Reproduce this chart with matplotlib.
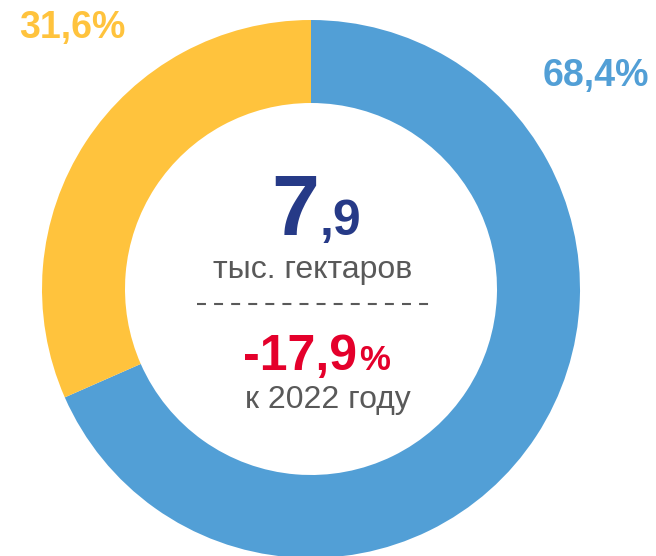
import matplotlib
matplotlib.use("Agg")
import matplotlib.pyplot as plt

plt.rcParams["font.family"] = ["Liberation Sans", "DejaVu Sans"]

# data
labels = ["68,4%", "31,6%"]
shares = [68.4, 31.6]
colors = ["#529FD6", "#FFC33D"]
total_main = "7"
total_dec = ",9"
unit = "тыс. гектаров"
change = "-17,9"
change_note = "к 2022 году"

W, H = 656, 556
fig = plt.figure(figsize=(W / 100, H / 100), dpi=100, facecolor="white")
ax = fig.add_axes([0, 0, 1, 1])

def Y(y):
    # image pixel row -> axes y
    return H - y

ax.pie(shares, colors=colors, startangle=90, counterclock=False,
       center=(311, Y(289)), radius=269,
       wedgeprops=dict(width=83, edgecolor="none"))
ax.set_xlim(0, W)
ax.set_ylim(0, H)
ax.set_aspect("equal")
ax.axis("off")

# outer labels
ax.text(596, Y(76), labels[0], ha="center", va="center", fontsize=27,
        fontweight="bold", color=colors[0])
ax.text(72, Y(28), labels[1], ha="center", va="center", fontsize=27,
        fontweight="bold", color=colors[1])

# centre
navy = "#263A87"
gray = "#595959"
ax.text(319, Y(235), total_main, ha="right", va="baseline", fontsize=62,
        fontweight="bold", color=navy)
ax.text(320, Y(235), total_dec, ha="left", va="baseline", fontsize=36,
        fontweight="bold", color=navy)
ax.text(313, Y(270), unit, ha="center", va="center", fontsize=23, color=gray)
ax.plot([197, 432], [Y(304), Y(304)], color=gray, lw=1.5,
        linestyle=(0, (4.3, 3.9)))
ax.text(357, Y(370), change, ha="right", va="baseline", fontsize=36,
        fontweight="bold", color="#E4002B")
ax.text(359, Y(370), "%", ha="left", va="baseline", fontsize=25,
        fontweight="bold", color="#E4002B")
ax.text(328, Y(400), change_note, ha="center", va="center", fontsize=23,
        color=gray)

fig.savefig("out.png", dpi=100, facecolor="white")
